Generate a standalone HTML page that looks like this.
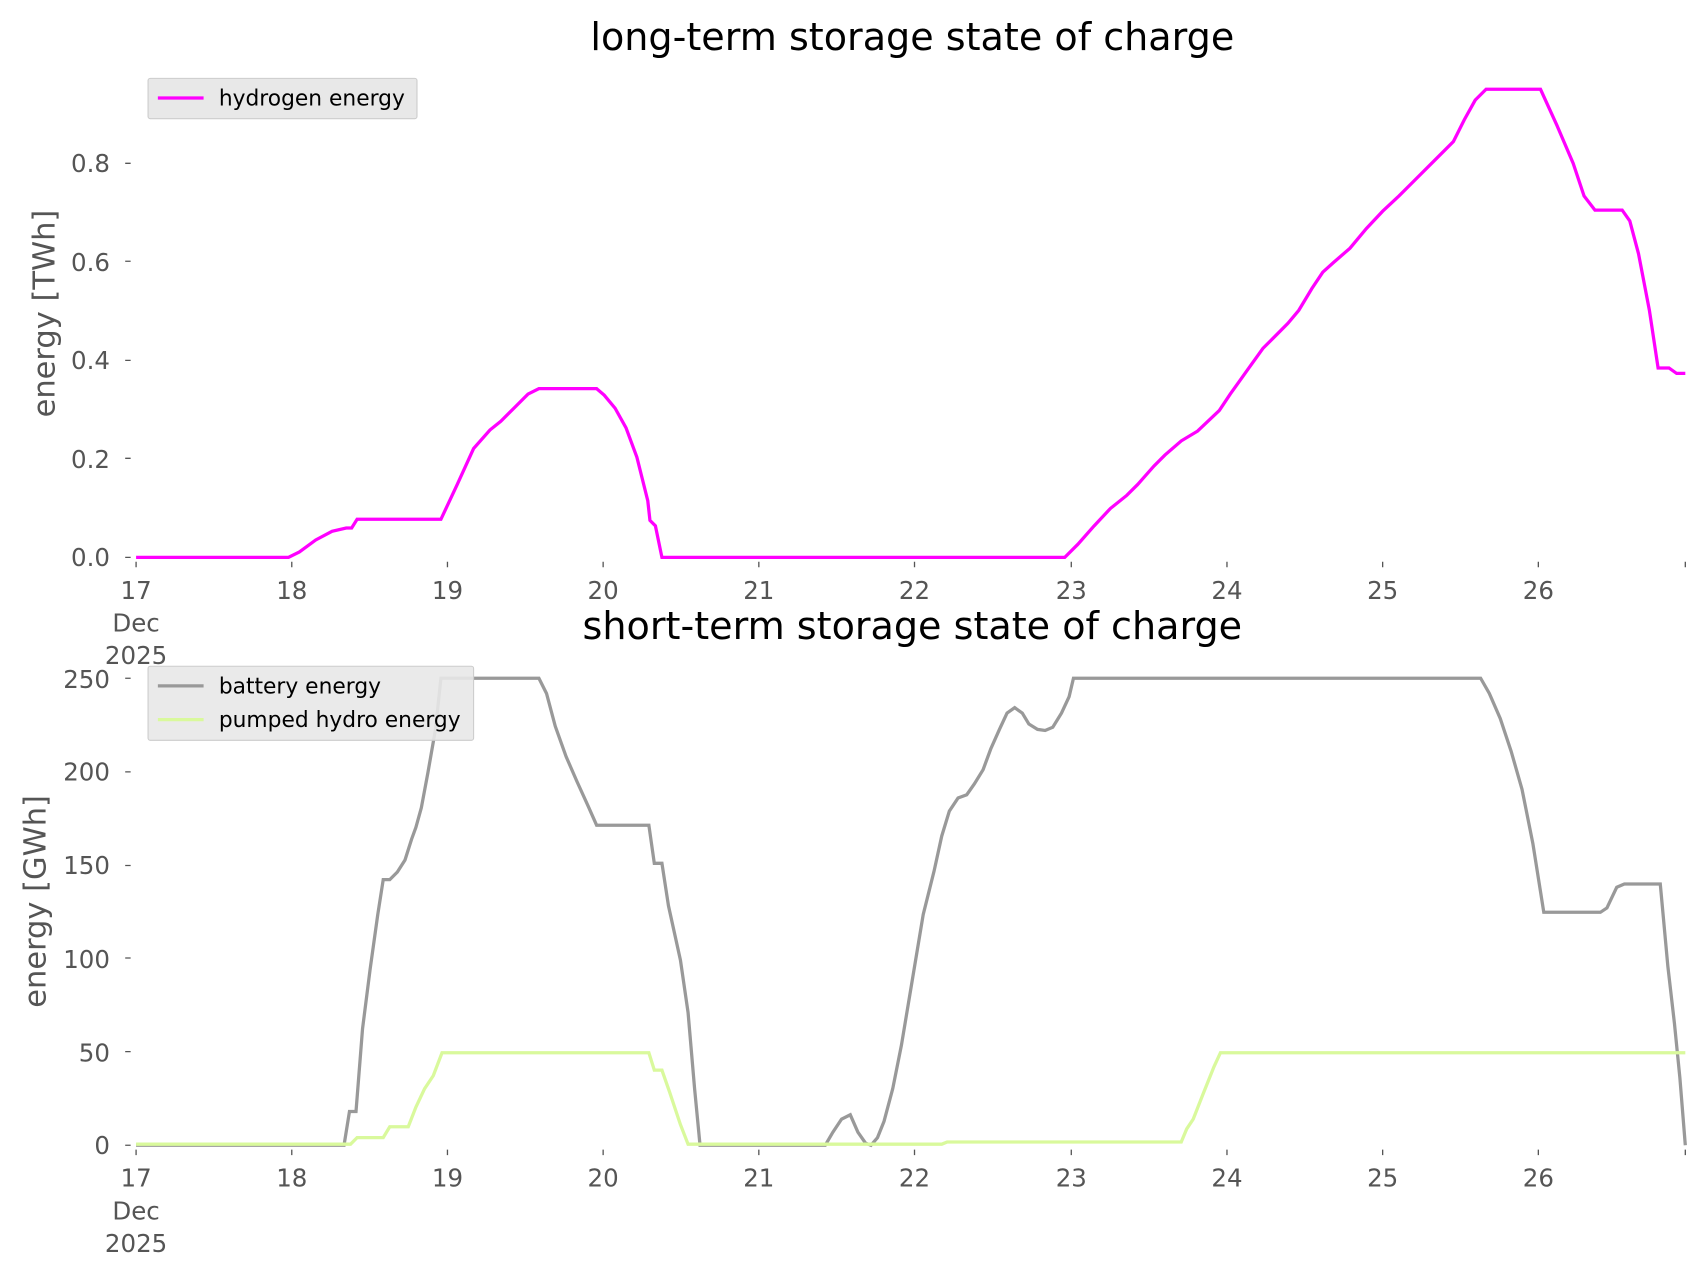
<!DOCTYPE html>
<html><head><meta charset="utf-8"><style>html,body{margin:0;padding:0;background:#fff}svg{display:block}</style></head>
<body>
<svg width="1706" height="1277" viewBox="0 0 1567 1173" preserveAspectRatio="none" xmlns="http://www.w3.org/2000/svg" font-family="DejaVu Sans, Liberation Sans, sans-serif">
<rect width="1567" height="1173" fill="#fff"/>
<text x="838" y="46" font-size="35" text-anchor="middle" fill="#000">long-term storage state of charge</text>
<text x="838" y="587" font-size="35" text-anchor="middle" fill="#000">short-term storage state of charge</text>
<g font-size="22.5" fill="#555" text-anchor="end">
<text x="101" y="520">0.0</text><text x="101" y="430">0.2</text><text x="101" y="339">0.4</text><text x="101" y="249">0.6</text><text x="101" y="158">0.8</text>
<text x="101" y="1060">0</text><text x="101" y="975">50</text><text x="101" y="889">100</text><text x="101" y="803">150</text><text x="101" y="717">200</text><text x="101" y="632">250</text>
</g>
<g stroke="#555" stroke-width="1.2">
<path d="M115 512h5M115 421h5M115 331h5M115 240h5M115 150h5M115 1052h5M115 966h5M115 880h5M115 795h5M115 709h5M115 623h5"/>
<path d="M125 516v5M268 516v5M411 516v5M554 516v5M697 516v5M840 516v5M984 516v5M1127 516v5M1270 516v5M1413 516v5M1548 516v5"/>
<path d="M125 1056v5M268 1056v5M411 1056v5M554 1056v5M697 1056v5M840 1056v5M984 1056v5M1127 1056v5M1270 1056v5M1413 1056v5M1548 1056v5"/>
</g>
<g font-size="22.5" fill="#555" text-anchor="middle">
<text x="125" y="550">17</text><text x="268" y="550">18</text><text x="411" y="550">19</text><text x="554" y="550">20</text><text x="697" y="550">21</text><text x="840" y="550">22</text><text x="984" y="550">23</text><text x="1127" y="550">24</text><text x="1270" y="550">25</text><text x="1413" y="550">26</text>
<text x="125" y="580">Dec</text><text x="125" y="610">2025</text>
<text x="125" y="1090">17</text><text x="268" y="1090">18</text><text x="411" y="1090">19</text><text x="554" y="1090">20</text><text x="697" y="1090">21</text><text x="840" y="1090">22</text><text x="984" y="1090">23</text><text x="1127" y="1090">24</text><text x="1270" y="1090">25</text><text x="1413" y="1090">26</text>
<text x="125" y="1120">Dec</text><text x="125" y="1150">2025</text>
</g>
<text transform="translate(50,288) rotate(-90)" font-size="28" fill="#555" text-anchor="middle">energy [TWh]</text>
<text transform="translate(42,828) rotate(-90)" font-size="28" fill="#555" text-anchor="middle">energy [GWh]</text>
<polyline fill="none" stroke="#ff00ff" stroke-width="3" points="125,512 265,512 275,507 290,496 305,488 318,485 323,485 328,477 405,477 420,445 435,412 450,395 460,387 472,375 485,362 495,357 548,357 555,363 565,375 575,393 585,420 590,440 595,460 597,478 602,483 608,512 978,512 990,500 1005,483 1020,467 1035,455 1045,445 1060,428 1070,418 1085,405 1100,396 1120,377 1130,362 1145,341 1160,320 1175,305 1183,297 1193,285 1205,265 1215,250 1225,241 1240,228 1255,210 1270,194 1285,180 1300,165 1315,150 1325,140 1335,130 1345,110 1355,92 1365,82 1415,82 1430,115 1445,150 1455,180 1465,193 1490,193 1497,203 1505,233 1515,285 1523,338 1533,338 1540,343 1548,343"/>
<polyline fill="none" stroke="#999" stroke-width="3" points="125,1052 316,1052 321,1021 327,1021 333,945 340,890 347,840 352,808 358,808 365,801 372,790 378,771 382,760 387,742 393,710 400,670 405,623 495,623 502,637 510,667 520,695 530,718 540,740 548,758 596,758 601,793 608,793 614,832 625,882 632,930 638,1000 643,1052 758,1052 765,1040 773,1028 781,1024 788,1040 795,1050 800,1052 806,1045 812,1030 820,1000 828,960 838,900 848,840 858,800 865,768 872,745 880,733 888,730 895,720 903,707 910,688 918,670 925,655 932,650 939,655 945,665 953,670 960,671 967,668 975,655 982,640 986,623 1360,623 1368,637 1378,660 1388,690 1398,725 1408,775 1418,838 1470,838 1476,834 1485,815 1492,812 1525,812 1532,888 1538,940 1543,990 1548,1052"/>
<polyline fill="none" stroke="#d9f99c" stroke-width="3" points="125,1051 322,1051 328,1045 352,1045 358,1035 375,1035 382,1017 390,1000 398,988 406,967 596,967 601,983 608,983 615,1003 625,1033 632,1051 865,1051 870,1049 1085,1049 1090,1037 1096,1028 1105,1005 1115,980 1121,967 1548,967"/>
<rect x="136" y="72" width="247" height="37" fill="#e8e8e8" stroke="#ccc" stroke-width="1" rx="2"/>
<line x1="145" y1="90" x2="187" y2="90" stroke="#ff00ff" stroke-width="3"/>
<text x="201" y="97" font-size="20" fill="#000">hydrogen energy</text>
<rect x="136" y="612" width="299" height="68" fill="#e8e8e8" stroke="#ccc" stroke-width="1" rx="2" fill-opacity="0.9"/>
<line x1="145" y1="630" x2="187" y2="630" stroke="#999" stroke-width="3"/>
<text x="201" y="637" font-size="20" fill="#000">battery energy</text>
<line x1="145" y1="661" x2="187" y2="661" stroke="#d9f99c" stroke-width="3"/>
<text x="201" y="668" font-size="20" fill="#000">pumped hydro energy</text>
</svg>
</body></html>
